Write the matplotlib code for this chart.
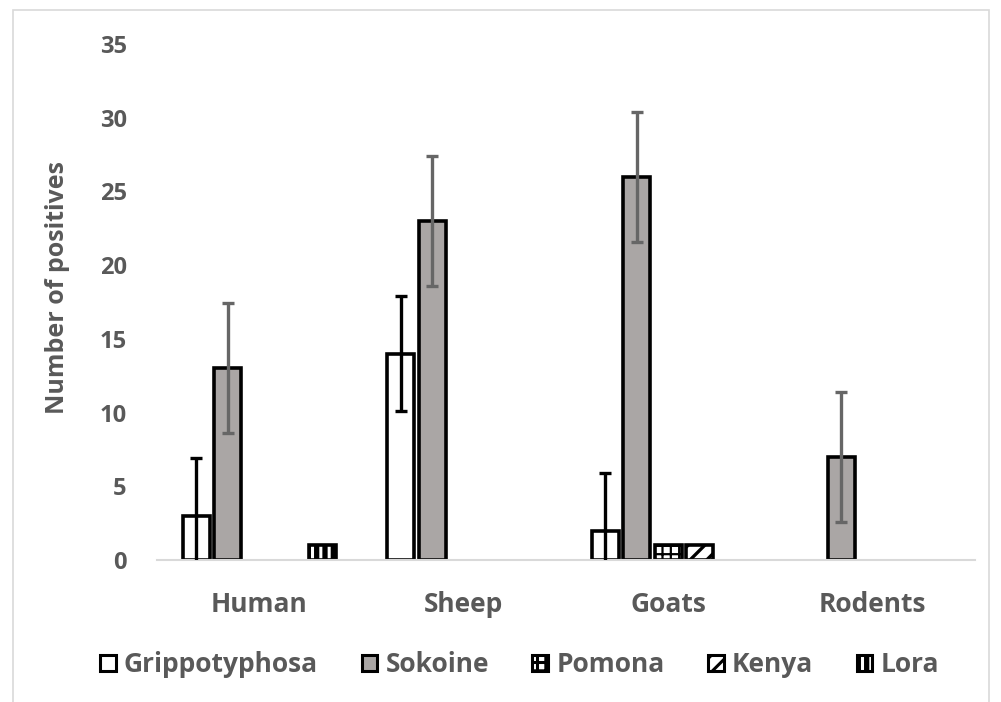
import matplotlib
matplotlib.use("Agg")
import matplotlib.pyplot as plt
from matplotlib.patches import Rectangle, Patch
from matplotlib.legend_handler import HandlerTuple
import numpy as np

categories = ["Human", "Sheep", "Goats", "Rodents"]
series = ["Grippotyphosa", "Sokoine", "Pomona", "Kenya", "Lora"]
grippotyphosa = [3, 14, 2, 0]
sokoine = [13, 23, 26, 7]
pomona = [0, 0, 1, 0]
kenya = [0, 0, 1, 0]
lora = [1, 0, 0, 0]
gripp_err = [3.9, 3.9, 3.9, 0]
sokoine_err = [4.4, 4.4, 4.4, 4.4]
yticks = [0, 5, 10, 15, 20, 25, 30, 35]

values = [grippotyphosa, sokoine, pomona, kenya, lora]
faces = ["white", "#aaa6a5", "white", "white", "black"]
hatches = [None, None, "++", "//", "||"]
hatch_col = ["black", "black", "black", "black", "white"]
hatch_lw = [1.0, 1.0, 1.6, 2.4, 2.2]

TXT = "#595959"
plt.rcParams["font.family"] = ["Open Sans", "DejaVu Sans"]
plt.rcParams["font.weight"] = "bold"
plt.rcParams["hatch.linewidth"] = 2.2

fig = plt.figure(figsize=(10.01, 7.02), dpi=100)
ax = fig.add_axes([0.157, 0.2023, 0.817, 0.735])

x = np.arange(len(categories))
step = 0.154
width = 0.132


def set_hlw(patches, lw):
    for b in patches:
        if hasattr(b, "set_hatch_linewidth"):
            b.set_hatch_linewidth(lw)


for i, (vals, fc, h, name) in enumerate(zip(values, faces, hatches, series)):
    xs = x + (i - 2) * step
    vv = np.array(vals, dtype=float)
    mask = vv > 0
    # fill
    ax.bar(xs[mask], vv[mask], width=width, color=fc, linewidth=0, zorder=2)
    # hatch layer
    if h:
        with plt.rc_context({"hatch.linewidth": hatch_lw[i]}):
            hb = ax.bar(xs[mask], vv[mask], width=width, facecolor="none",
                        edgecolor=hatch_col[i], linewidth=0, hatch=h, zorder=2.1)
        set_hlw(hb, hatch_lw[i])
    # border
    ax.bar(xs[mask], vv[mask], width=width, facecolor="none", edgecolor="black",
           linewidth=2.6, zorder=2.2)

xg = x - 2 * step
ge = np.array(gripp_err, dtype=float)
m = ge > 0
ax.errorbar(xg[m], np.array(grippotyphosa)[m], yerr=ge[m], fmt="none",
            ecolor="black", elinewidth=2.4, capsize=4.5, capthick=2.4, zorder=3)
xs_ = x - 1 * step
ax.errorbar(xs_, sokoine, yerr=sokoine_err, fmt="none",
            ecolor="#666666", elinewidth=2.4, capsize=4.5, capthick=2.4, zorder=3)

ax.set_xlim(-0.5, 3.5)
ax.set_ylim(0, 35)
ax.set_yticks(yticks)
ax.set_xticks(x)
ax.set_xticklabels(categories)
ax.tick_params(axis="both", length=0, labelsize=17, colors=TXT)
ax.tick_params(axis="x", labelsize=19, pad=22)
ax.tick_params(axis="y", pad=22)
for lab in ax.get_xticklabels() + ax.get_yticklabels():
    lab.set_fontweight("bold")
for s in ["top", "right", "left"]:
    ax.spines[s].set_visible(False)
ax.spines["bottom"].set_color("#d9d9d9")
ax.spines["bottom"].set_linewidth(1.5)
ax.set_ylabel("Number of positives", fontsize=18, color=TXT, fontweight="bold")
ax.yaxis.set_label_coords(-0.107, 0.529)

handles = []
for i, (fc, h, hl) in enumerate(zip(faces, hatches, hatch_lw)):
    parts = [Patch(facecolor=fc, linewidth=0)]
    if h:
        with plt.rc_context({"hatch.linewidth": hl}):
            hp = Patch(facecolor="none", edgecolor=hatch_col[i], linewidth=0, hatch=h)
        set_hlw([hp], hl)
        parts.append(hp)
    parts.append(Patch(facecolor="none", edgecolor="black", linewidth=2.2))
    handles.append(tuple(parts))
leg = fig.legend(handles, series, loc="center", bbox_to_anchor=(0.519, 0.053),
                 ncol=5, frameon=False, handlelength=0.6,
                 handleheight=0.6, handletextpad=0.3, columnspacing=1.65,
                 handler_map={tuple: HandlerTuple(ndivide=1, pad=0)},
                 prop={"weight": "bold", "size": 19})
for t in leg.get_texts():
    t.set_color(TXT)

fig.add_artist(Rectangle((0.013, -0.01), 0.975, 0.9958, transform=fig.transFigure,
                         fill=False, edgecolor="#d9d9d9", linewidth=1.2))

fig.savefig("out.png", dpi=100)
